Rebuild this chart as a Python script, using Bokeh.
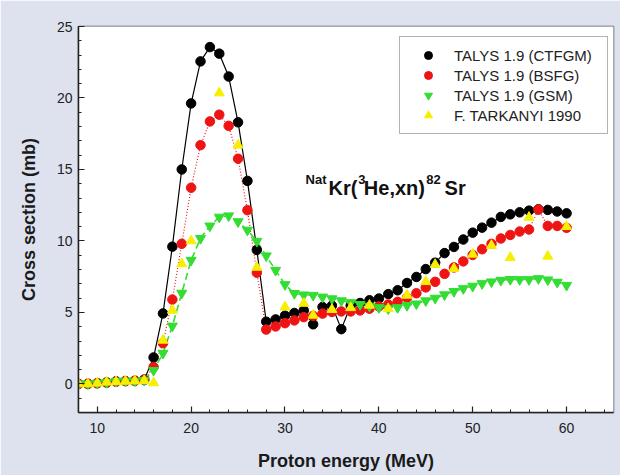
from bokeh.plotting import figure
from bokeh.models import Range1d, FixedTicker, Legend, LegendItem, Label, BoxAnnotation
from bokeh.embed import file_html
from bokeh.resources import INLINE

# ---------------- data ----------------
energy = list(range(8, 61))
ctfgm = [0.0, 0.0, 0.05, 0.1, 0.18, 0.2, 0.22, 0.3, 1.85, 4.93, 9.6, 15.0, 19.62, 22.56, 23.56, 23.1,
         21.5, 18.3, 14.2, 9.37, 4.35, 4.51, 4.77, 4.96, 5.14, 4.17, 5.38, 5.48, 3.83, 5.48, 5.66,
         5.85, 5.97, 6.28, 6.55, 7.06, 7.48, 8.03, 8.48, 9.15, 9.58, 10.1, 10.58, 10.93, 11.28,
         11.68, 11.86, 12.0, 12.12, 12.21, 12.17, 12.06, 11.93]
bsfg = [0.0, 0.02, 0.05, 0.1, 0.15, 0.2, 0.22, 0.28, 1.18, 2.85, 5.9, 9.8, 13.72, 16.7, 18.36, 18.83,
        18.05, 15.75, 12.15, 7.78, 3.8, 4.02, 4.25, 4.44, 4.67, 4.76, 4.92, 5.03, 5.07, 5.07, 5.14,
        5.26, 5.42, 5.55, 5.74, 6.02, 6.34, 6.75, 7.14, 7.7, 8.15, 8.57, 9.02, 9.42, 9.8, 10.17,
        10.42, 10.66, 10.8, 12.2, 11.05, 11.05, 10.92]
gsm = [0.0, 0.0, 0.05, 0.1, 0.18, 0.2, 0.2, 0.25, 0.95, 2.15, 4.05, 6.35, 8.65, 10.18, 11.05, 11.67,
       11.76, 11.35, 10.76, 9.98, 8.96, 7.95, 6.95, 6.33, 6.23, 6.2, 6.08, 5.96, 5.82, 5.69, 5.56,
       5.44, 5.34, 5.26, 5.34, 5.49, 5.6, 5.82, 6.0, 6.24, 6.47, 6.67, 6.84, 7.02, 7.14, 7.25,
       7.31, 7.3, 7.3, 7.37, 7.28, 7.12, 6.9]
tark_energy = [8, 9, 10, 11, 12, 13, 14, 15, 16, 17, 18, 19, 20, 23, 25, 27, 30, 32, 33, 35, 37,
               39, 41, 43, 45, 46, 48, 50, 52, 54, 56, 58, 60]
tark_xs = [0.0, 0.0, 0.05, 0.12, 0.15, 0.18, 0.2, 0.23, 0.07, 3.05, 5.15, 8.4, 10.0, 20.35, 16.7,
           8.15, 5.38, 5.63, 4.8, 5.2, 5.33, 5.5, 5.26, 6.2, 7.15, 8.35, 8.07, 9.07, 9.68, 8.84,
           11.65, 8.93, 11.0]

x_ticks = [10, 20, 30, 40, 50, 60]
y_ticks = [0, 5, 10, 15, 20, 25]
series_labels = ["TALYS 1.9 (CTFGM)", "TALYS 1.9 (BSFG)", "TALYS 1.9 (GSM)", "F. TARKANYI 1990"]
x_title = "Proton energy (MeV)"
y_title = "Cross section (mb)"

# ---------------- styling ----------------
BLACK = "#000000"
RED = "#ee1414"
GREEN = "#33dd33"
YELLOW = "#f6ef00"
FONT = "Liberation Sans"

p = figure(width=620, height=475, output_backend="svg", toolbar_location=None,
           x_range=Range1d(8, 65), y_range=Range1d(-2, 25),
           min_border_left=78, min_border_right=7, min_border_top=26, min_border_bottom=63,
           border_fill_color="#dde2ee", background_fill_color="white",
           outline_line_color="#555555", outline_line_width=1.5)

# white panel behind everything
p.add_layout(BoxAnnotation(left=19, right=615, top=18, bottom=473,
                           left_units="canvas", right_units="canvas",
                           top_units="canvas", bottom_units="canvas",
                           fill_color="white", fill_alpha=1.0, line_alpha=0,
                           level="underlay"))

p.xgrid.visible = False
p.ygrid.visible = False

p.xaxis.ticker = FixedTicker(ticks=x_ticks, minor_ticks=list(range(8, 66, 2)))
p.yaxis.ticker = FixedTicker(ticks=y_ticks, minor_ticks=list(range(-2, 26)))
p.xaxis.axis_label = x_title
p.yaxis.axis_label = y_title

for ax in (p.xaxis[0], p.yaxis[0]):
    ax.axis_line_color = "#222222"
    ax.axis_line_width = 1.5
    ax.major_tick_in = 6
    ax.major_tick_out = 0
    ax.minor_tick_in = 3
    ax.minor_tick_out = 0
    ax.major_tick_line_color = "#222222"
    ax.minor_tick_line_color = "#222222"
    ax.major_tick_line_width = 1.2
    ax.minor_tick_line_width = 1.0
    ax.major_label_text_font = FONT
    ax.major_label_text_font_size = "14px"
    ax.major_label_text_color = "#222222"
    ax.axis_label_text_font = FONT
    ax.axis_label_text_font_size = "18px"
    ax.axis_label_text_font_style = "bold"
    ax.axis_label_text_color = "#1a1a1a"

p.xaxis.major_label_standoff = 10
p.xaxis.axis_label_standoff = 15
p.yaxis.major_label_standoff = 6
p.yaxis.axis_label_standoff = 15

# lines
p.line(energy, ctfgm, line_color=BLACK, line_width=1.2)
p.line(energy, bsfg, line_color=RED, line_width=1.2, line_dash="1 2")
p.line(energy, gsm, line_color=GREEN, line_width=1.6, line_dash="7 4")

# markers
r_black = p.scatter(energy, ctfgm, marker="circle", size=9.5, fill_color=BLACK, line_color=BLACK)
r_red = p.scatter(energy, bsfg, marker="circle", size=9.5, fill_color=RED, line_color=RED)
r_green = p.scatter(energy, gsm, marker="inverted_triangle", size=10, fill_color=GREEN, line_color=GREEN)
r_yellow = p.scatter(tark_energy, tark_xs, marker="triangle", size=10, fill_color=YELLOW, line_color=YELLOW)

legend = Legend(items=[LegendItem(label=series_labels[0], renderers=[r_black]),
                       LegendItem(label=series_labels[1], renderers=[r_red]),
                       LegendItem(label=series_labels[2], renderers=[r_green]),
                       LegendItem(label=series_labels[3], renderers=[r_yellow])],
                location=(321, 278), margin=0, padding=8, spacing=0,
                glyph_width=40, glyph_height=20, label_height=20, label_width=145,
                label_standoff=6, label_text_font=FONT, label_text_font_size="15px",
                label_text_color="#222222", border_line_color="#666666",
                border_line_width=1, background_fill_color="white", background_fill_alpha=1.0)
p.add_layout(legend)

# reaction title with superscripts
title_parts = [("Nat", 32.19, 14.3, "13px"), ("Kr(", 34.64, 13.7, "20px"),
               ("3", 37.8, 14.3, "13px"), ("He,xn)", 38.4, 13.7, "20px"),
               ("82", 45.05, 14.3, "13px"), ("Sr", 47.0, 13.7, "20px")]
for txt, tx, ty, fs in title_parts:
    p.add_layout(Label(x=tx, y=ty, text=txt, text_font=FONT, text_font_style="bold",
                       text_font_size=fs, text_color="#111111", text_align="left",
                       text_baseline="alphabetic"))

open("out.html", "w").write(file_html(p, INLINE))
